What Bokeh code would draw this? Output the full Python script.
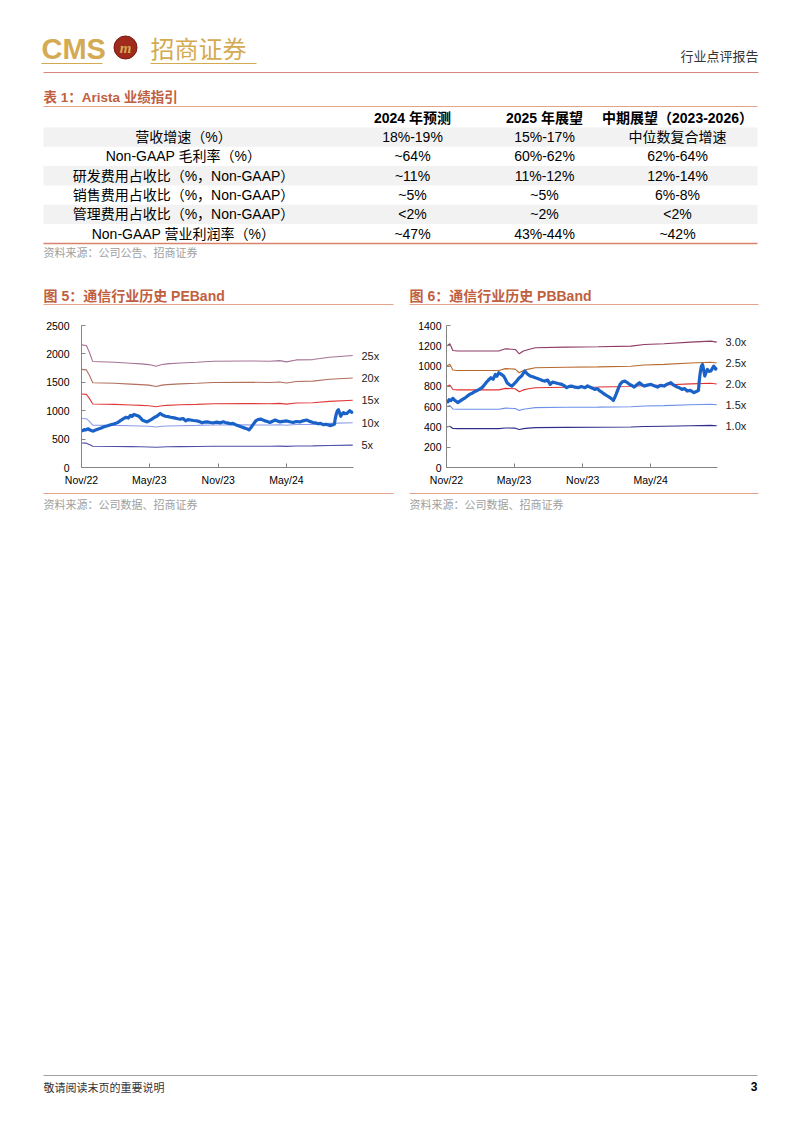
import pandas as pd
from bokeh.plotting import figure
from bokeh.layouts import column, row
from bokeh.models import Range1d, FixedTicker, LinearAxis, DatetimeTickFormatter
from bokeh.core.properties import value
from bokeh.embed import file_html
from bokeh.resources import INLINE

# ---------------- data ----------------
table_title = "表 1：Arista 业绩指引"
col_headers = ["2024 年预测", "2025 年展望", "中期展望（2023-2026）"]
row_labels = ["营收增速（%）", "Non-GAAP 毛利率（%）", "研发费用占收比（%，Non-GAAP）",
              "销售费用占收比（%，Non-GAAP）", "管理费用占收比（%，Non-GAAP）", "Non-GAAP 营业利润率（%）"]
col_2024 = ["18%-19%", "~64%", "~11%", "~5%", "<2%", "~47%"]
col_2025 = ["15%-17%", "60%-62%", "11%-12%", "~5%", "~2%", "43%-44%"]
col_mid = ["中位数复合增速", "62%-64%", "12%-14%", "6%-8%", "<2%", "~42%"]
table_source = "资料来源：公司公告、招商证券"

pe_title = "图 5：通信行业历史 PEBand"
pb_title = "图 6：通信行业历史 PBBand"
chart_source = "资料来源：公司数据、招商证券"

x_ticks = ["2022-11-01", "2023-05-01", "2023-11-01", "2024-05-01"]
x_start = "2022-11-01"
x_end = "2024-10-27"
pe_y_ticks = [0, 500, 1000, 1500, 2000, 2500]
pb_y_ticks = [0, 200, 400, 600, 800, 1000, 1200, 1400]

pe_band_dates = ["2022-11-01", "2022-11-14", "2022-11-22", "2022-12-01", "2023-01-28", "2023-03-12",
                 "2023-04-08", "2023-04-30", "2023-05-19", "2023-06-04", "2023-06-17", "2023-07-22",
                 "2023-09-05", "2023-10-19", "2024-01-16", "2024-03-17", "2024-04-13", "2024-05-01",
                 "2024-05-27", "2024-07-10", "2024-08-24", "2024-10-25"]
pe_25x = [2159, 2147, 2029, 1865, 1853, 1835, 1824, 1812, 1782, 1812, 1824, 1841, 1853, 1871, 1876, 1871, 1882, 1859, 1894, 1900, 1941, 1971]
pe_20x = [1727, 1718, 1623, 1492, 1482, 1468, 1459, 1450, 1426, 1450, 1459, 1473, 1482, 1497, 1501, 1497, 1506, 1487, 1515, 1520, 1553, 1577]
pe_15x = [1295, 1288, 1217, 1119, 1112, 1101, 1094, 1087, 1069, 1087, 1094, 1105, 1112, 1123, 1126, 1123, 1129, 1115, 1136, 1140, 1165, 1183]
pe_10x = [864, 859, 812, 746, 741, 734, 730, 725, 713, 725, 730, 736, 741, 748, 750, 748, 753, 744, 758, 760, 776, 788]
pe_5x = [432, 429, 406, 373, 371, 367, 365, 362, 356, 362, 365, 368, 371, 374, 375, 374, 376, 372, 379, 380, 388, 394]
pe_labels = ["25x", "20x", "15x", "10x", "5x"]

pb_band_dates = ["2022-11-01", "2022-11-10", "2022-11-18", "2022-12-01", "2023-03-21", "2023-04-08",
                 "2023-05-04", "2023-05-15", "2023-05-26", "2023-06-09", "2023-06-27", "2023-09-15",
                 "2023-12-12", "2024-03-09", "2024-04-14", "2024-06-06", "2024-08-16", "2024-10-09", "2024-10-25"]
pb_30x = [1197, 1220, 1154, 1148, 1148, 1170, 1164, 1121, 1148, 1164, 1180, 1187, 1190, 1197, 1213, 1220, 1236, 1246, 1236]
pb_25x = [998, 1017, 962, 957, 957, 975, 970, 934, 957, 970, 983, 989, 992, 998, 1011, 1017, 1030, 1038, 1030]
pb_20x = [798, 813, 769, 765, 765, 780, 776, 747, 765, 776, 787, 791, 793, 798, 809, 813, 824, 831, 824]
pb_15x = [599, 610, 577, 574, 574, 585, 582, 561, 574, 582, 590, 594, 595, 599, 607, 610, 618, 623, 618]
pb_10x = [399, 407, 385, 383, 383, 390, 388, 374, 383, 388, 393, 396, 397, 399, 404, 407, 412, 415, 412]
pb_labels = ["3.0x", "2.5x", "2.0x", "1.5x", "1.0x"]

idx_dates = ["2022-11-01", "2022-11-05", "2022-11-08", "2022-11-13", "2022-11-18", "2022-11-24", "2022-12-01",
             "2022-12-07", "2022-12-14", "2022-12-22", "2023-01-02", "2023-01-10", "2023-01-18", "2023-01-28",
             "2023-02-05", "2023-02-10", "2023-02-15", "2023-02-21", "2023-02-28", "2023-03-06", "2023-03-12",
             "2023-03-16", "2023-03-21", "2023-03-27", "2023-04-03", "2023-04-08", "2023-04-12", "2023-04-18",
             "2023-04-25", "2023-05-01", "2023-05-08", "2023-05-14", "2023-05-21", "2023-05-26", "2023-05-30",
             "2023-06-05", "2023-06-13", "2023-06-20", "2023-06-27", "2023-07-03", "2023-07-09", "2023-07-16",
             "2023-07-23", "2023-07-30", "2023-08-06", "2023-08-12", "2023-08-19", "2023-08-27", "2023-09-06",
             "2023-09-12", "2023-09-19", "2023-09-26", "2023-10-02", "2023-10-11", "2023-10-20", "2023-10-28",
             "2023-11-07", "2023-11-14", "2023-11-20", "2023-11-27", "2023-12-03", "2023-12-10", "2023-12-17",
             "2023-12-23", "2023-12-30", "2024-01-06", "2024-01-13", "2024-01-18", "2024-01-22", "2024-01-27",
             "2024-01-31", "2024-02-05", "2024-02-09", "2024-02-15", "2024-02-22", "2024-02-28", "2024-03-05",
             "2024-03-11", "2024-03-18", "2024-03-25", "2024-04-01", "2024-04-07", "2024-04-14", "2024-04-22",
             "2024-05-02", "2024-05-10", "2024-05-19", "2024-05-27", "2024-06-06", "2024-06-14", "2024-06-24",
             "2024-07-02", "2024-07-11", "2024-07-17", "2024-07-24", "2024-07-31", "2024-08-07", "2024-08-15",
             "2024-08-25", "2024-09-03", "2024-09-06", "2024-09-08", "2024-09-11", "2024-09-14", "2024-09-17",
             "2024-09-20", "2024-09-23", "2024-09-26", "2024-09-30", "2024-10-04", "2024-10-09", "2024-10-13",
             "2024-10-17", "2024-10-22", "2024-10-26"]
idx_values = [656, 648, 668, 660, 682, 660, 640, 655, 672, 690, 721, 735, 752, 770, 790, 812, 836, 860, 885,
              870, 918, 900, 934, 920, 902, 870, 836, 818, 803, 825, 852, 880, 902, 930, 951, 925, 902, 895,
              885, 878, 869, 858, 852, 862, 820, 842, 836, 828, 820, 808, 787, 800, 803, 792, 787, 798, 787,
              805, 793, 782, 770, 778, 754, 740, 721, 705, 689, 676, 662, 700, 738, 785, 820, 845, 852, 838,
              820, 810, 793, 815, 836, 818, 803, 812, 820, 805, 793, 810, 803, 822, 836, 812, 793, 786, 770,
              778, 754, 760, 738, 754, 760, 852, 940, 1000, 1016, 960, 902, 935, 967, 948, 951, 975, 1000,
              970, 984]

# ---------------- styles ----------------
CJK = "Noto Sans CJK SC"
MIX = "Liberation Sans, Noto Sans CJK SC"
TITLE_C = "#C0603F"
RULE_C = "#E3A48C"
GOLD = "#D4AA52"

pe_colors = ["#A57396", "#B0705E", "#E23B3B", "#8C9CEB", "#4E4FA8"]
pb_colors = ["#8E3A66", "#B86A2E", "#E23030", "#6E90EA", "#2E2E8C"]
IDX_C = "#1A62C8"


def txt(p, x, y, s, size, color="#000000", font=MIX, align="left", style="normal"):
    p.text(x=[x], y=[y], text=[s], text_font=value(font), text_font_size=f"{size}px",
           text_color=color, text_align=align, text_baseline="middle", text_font_style=style)


def rule(p, x0, x1, y, color, w=1.0):
    p.segment(x0=[x0], y0=[y], x1=[x1], y1=[y], line_color=color, line_width=w)


def blank(h, y0):
    p = figure(width=794, height=h, x_range=Range1d(0, 794), y_range=Range1d(y0 + h, y0),
               output_backend="svg", toolbar_location=None, min_border=0,
               x_axis_location=None, y_axis_location=None)
    p.grid.visible = False
    p.outline_line_color = None
    return p


# ---------------- top: header + table + chart titles ----------------
top = blank(312, 0)
txt(top, 41, 48, "CMS", 29, GOLD, "Liberation Sans Narrow, Liberation Sans", style="bold")
rule(top, 41, 102, 63, GOLD, 1.2)
top.ellipse(x=[125], y=[47], width=[23], height=[23], fill_color="#A02A1C", line_color="#7A1A10")
txt(top, 125, 47, "m", 15, GOLD, "Liberation Serif", align="center", style="bold italic")
txt(top, 150, 47, "招商证券", 24, GOLD, CJK)
rule(top, 150, 256, 63, GOLD, 1.2)
txt(top, 758, 55, "行业点评报告", 13, "#333333", CJK, align="right")
rule(top, 43, 758, 72, "#D9897B", 1.0)

txt(top, 43, 97, table_title, 13.5, TITLE_C, MIX, style="bold")
rule(top, 43, 757, 106, RULE_C, 1.0)
col_x = [412, 544, 677]
for cx, h in zip(col_x, col_headers):
    txt(top, cx, 117, h, 14, "#000000", MIX, align="center", style="bold")
row_h = 19.3
row_top = 127
for i in range(len(row_labels)):
    if i % 2 == 0:
        top.quad(left=[43], right=[757], top=[row_top + i * row_h], bottom=[row_top + (i + 1) * row_h],
                 fill_color="#F2F2F2", line_color=None)
for i, lab in enumerate(row_labels):
    yc = row_top + (i + 0.5) * row_h
    txt(top, 183, yc, lab, 14, "#000000", MIX, align="center")
    for cx, col in zip(col_x, [col_2024, col_2025, col_mid]):
        txt(top, cx, yc, col[i], 14, "#000000", MIX, align="center")
rule(top, 43, 757, 243, "#D9826E", 1.5)
txt(top, 43, 251, table_source, 11, "#A0A0A0", CJK)

txt(top, 43, 295, pe_title, 14, TITLE_C, MIX, style="bold")
rule(top, 43, 393, 304, RULE_C, 1.2)
txt(top, 409, 295, pb_title, 14, TITLE_C, MIX, style="bold")
rule(top, 409, 758, 304, RULE_C, 1.2)


# ---------------- charts ----------------
def make_chart(width, bl, br, ymax, yticks, ystand, band_dates, bands, labels, colors):
    p = figure(width=width, height=178, x_axis_type="datetime",
               x_range=Range1d(pd.Timestamp(x_start), pd.Timestamp(x_end)),
               y_range=Range1d(0, ymax), output_backend="svg", toolbar_location=None,
               min_border_left=bl, min_border_right=br, min_border_top=13, min_border_bottom=23)
    p.grid.visible = False
    p.outline_line_color = None
    bd = pd.to_datetime(band_dates)
    for vals, c in zip(bands, colors):
        p.line(bd, vals, line_color=c, line_width=1.1)
    p.line(pd.to_datetime(idx_dates), idx_values, line_color=IDX_C, line_width=3.2, line_join="round")

    xa = p.xaxis[0]
    xa.ticker = FixedTicker(ticks=[pd.Timestamp(t).value / 1e6 for t in x_ticks])
    fmt = "%b/%y"
    xa.formatter = DatetimeTickFormatter(milliseconds=fmt, seconds=fmt, minsec=fmt, minutes=fmt,
                                         hourmin=fmt, hours=fmt, days=fmt, months=fmt, years=fmt,
                                         context=None)
    ya = p.yaxis[0]
    ya.ticker = FixedTicker(ticks=yticks)
    ya.major_label_standoff = ystand
    xa.major_label_standoff = 6
    for ax in (xa, ya):
        ax.axis_line_color = "#858585"
        ax.major_tick_line_color = "#858585"
        ax.major_tick_in = 4
        ax.major_tick_out = 0
        ax.minor_tick_line_color = None
        ax.major_label_text_font = "Liberation Sans"
        ax.major_label_text_font_size = "10.5px"
        ax.major_label_text_color = "#000000"
    ends = [float(b[-1]) for b in bands]
    rax = LinearAxis(ticker=FixedTicker(ticks=ends),
                     major_label_overrides={e: l for e, l in zip(ends, labels)},
                     axis_line_color=None, major_tick_line_color=None, minor_tick_line_color=None,
                     major_label_standoff=2, major_label_text_font="Liberation Sans",
                     major_label_text_font_size="11px", major_label_text_color="#222222")
    p.add_layout(rax, "right")
    return p


left = make_chart(405, 81, 52, 2500, pe_y_ticks, 12, pe_band_dates,
                  [pe_25x, pe_20x, pe_15x, pe_10x, pe_5x], pe_labels, pe_colors)
right = make_chart(389, 41, 77, 1400, pb_y_ticks, 5, pb_band_dates,
                   [pb_30x, pb_25x, pb_20x, pb_15x, pb_10x], pb_labels, pb_colors)

# ---------------- bottom: sources + footer ----------------
bottom = blank(635, 490)
rule(bottom, 43, 393, 493, RULE_C, 1.2)
rule(bottom, 409, 758, 493, RULE_C, 1.2)
txt(bottom, 43, 503, chart_source, 11, "#A0A0A0", CJK)
txt(bottom, 409, 503, chart_source, 11, "#A0A0A0", CJK)
rule(bottom, 43, 757, 1075, "#A0A0A0", 1.0)
txt(bottom, 43, 1086, "敬请阅读末页的重要说明", 11, "#333333", CJK)
txt(bottom, 757, 1086, "3", 12, "#000000", "Liberation Sans", align="right", style="bold")

page = column(top, row(left, right), bottom)
open("out.html", "w").write(file_html(page, INLINE))
